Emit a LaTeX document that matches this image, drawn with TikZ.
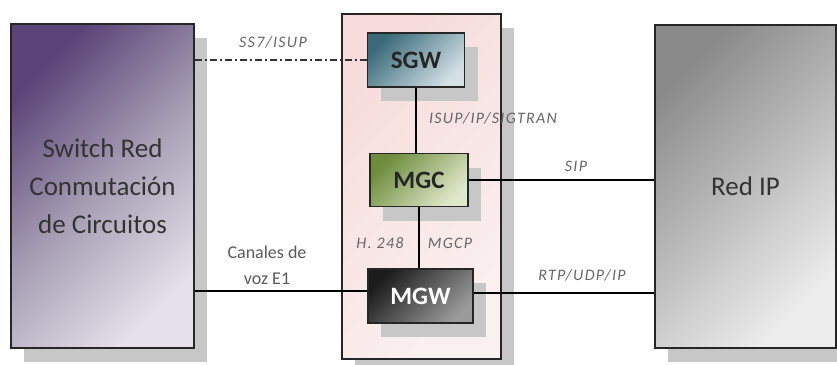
\documentclass[tikz,border=0pt]{standalone}
\usepackage{fontspec}
\setmainfont{Carlito}
\usetikzlibrary{shadows}
\definecolor{purA}{HTML}{5B4478}
\definecolor{purM}{HTML}{A69DB3}
\definecolor{purB}{HTML}{E4E1EA}
\definecolor{pinkA}{HTML}{F6DCDC}
\definecolor{pinkB}{HTML}{FBF0F0}
\definecolor{grayA}{HTML}{8A8A8A}
\definecolor{grayB}{HTML}{EDEDED}
\definecolor{tealA}{HTML}{3A6A7A}
\definecolor{tealB}{HTML}{D4E0E6}
\definecolor{grnA}{HTML}{6E8C3C}
\definecolor{grnB}{HTML}{E0E8CC}
\definecolor{dkA}{HTML}{1C1C1C}
\definecolor{dkB}{HTML}{9A9A9A}
\begin{document}
\begin{tikzpicture}[x=1pt,y=-1pt,
  box/.style={draw=black!85, line width=1.1pt, inner sep=0pt, align=center},
  shad/.style={drop shadow={shadow xshift=13pt, shadow yshift=-14pt, fill=black!22, opacity=1}},
  big/.style={font=\fontsize{27}{38}\selectfont, text=black!80},
  elem/.style={font=\fontsize{25}{26}\selectfont\bfseries},
  lbl/.style={font=\fontsize{16}{18}\selectfont\itshape\addfontfeature{LetterSpace=8}, text=black!60, inner sep=0pt},
  conn/.style={line width=2pt, black}]
\useasboundingbox (0,0) rectangle (837,364);
% left switch
\node[box, shad, big, minimum width=183pt, minimum height=324pt,
  top color=purA, bottom color=purB, middle color=purM, shading angle=45] (left) at (102.5,186)
  {Switch Red\\Conmutación\\de Circuitos};
% middle container
\node[box, shad, minimum width=159pt, minimum height=345pt,
  top color=pinkA, bottom color=pinkB, shading angle=45] (cont) at (421.5,186.5) {};
% right
\node[box, shad, big, minimum width=181pt, minimum height=323pt,
  top color=grayA, bottom color=grayB, shading angle=45] (right) at (745.5,186.5) {Red IP};
% elements
\node[box, shad, elem, text=black!85, minimum width=97pt, minimum height=54pt,
  top color=tealA, bottom color=tealB, shading angle=45] (sgw) at (416,60) {SGW};
\node[box, shad, elem, text=black!85, minimum width=98pt, minimum height=53pt,
  top color=grnA, bottom color=grnB, shading angle=45] (mgc) at (419,180) {MGC};
\node[box, shad, elem, text=white, minimum width=105pt, minimum height=54pt,
  top color=dkA, bottom color=dkB, shading angle=45] (mgw) at (420.5,296) {MGW};
% connectors
\draw[line width=1.2pt, black!80, dash pattern=on 7pt off 3pt on 2pt off 3pt] (left.east |- sgw.west) -- (sgw.west);
\draw[conn] (sgw.south) -- (sgw.south |- mgc.north);
\draw[conn] (mgc.east) -- (mgc.east -| right.west);
\draw[conn] (mgc.south) -- (mgc.south |- mgw.north);
\coordinate (e1) at ([yshift=5pt]mgw.west);
\coordinate (rtpc) at ([yshift=3pt]mgw.east);
\draw[conn] (left.east |- e1) -- (e1);
\draw[conn] (rtpc) -- (rtpc -| right.west);
% labels
\node[lbl] (ss7) at (273,42) {SS7/ISUP};
\node[lbl] (sig) at (493,118) {ISUP/IP/SIGTRAN};
\node[lbl] (sip) at (576,166) {SIP};
\node[lbl] (h248) at (380,243) {H. 248};
\node[lbl] (mgcp) at (450,243) {MGCP};
\node[lbl] (rtp) at (582,275) {RTP/UDP/IP};
\node[font=\fontsize{18}{26}\selectfont, text=black!65, align=center, inner sep=0pt] (e1lbl) at (267,265) {Canales de\\voz E1};
\end{tikzpicture}
\end{document}
